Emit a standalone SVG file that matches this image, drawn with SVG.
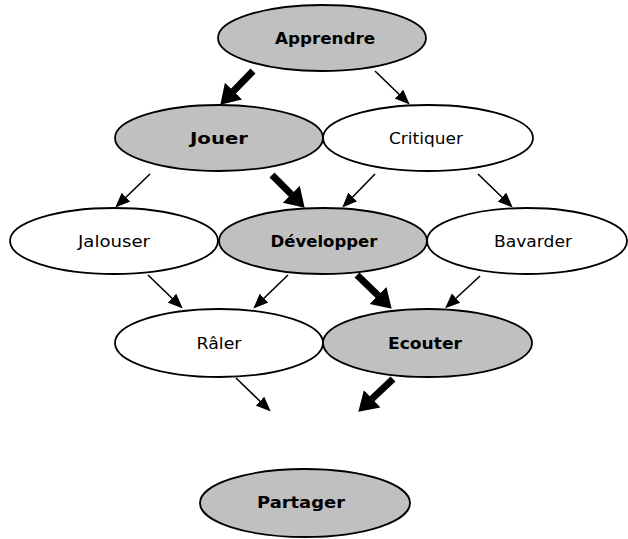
<svg xmlns="http://www.w3.org/2000/svg" width="628" height="539" viewBox="0 0 628 539">
<style>
.n ellipse{stroke:#000;stroke-width:1.8;}
.g ellipse{fill:#c0c0c0;}
.w ellipse{fill:#fff;}
text{font-family:"DejaVu Sans","Liberation Sans",sans-serif;text-anchor:middle;fill:#000;}
.g text{font-weight:bold;font-size:15.5px;}
.w text{font-size:15px;}
.thin{stroke:#000;stroke-width:1.6;fill:none;marker-end:url(#hs);}
.thick{stroke:#000;stroke-width:7;fill:none;marker-end:url(#hb);}
</style>
<defs>
<marker id="hs" markerUnits="userSpaceOnUse" markerWidth="17" markerHeight="14" refX="0.5" refY="7" orient="auto"><path d="M0,0.8 L15,7 L0,13.2 z" fill="#000"/></marker>
<marker id="hb" markerUnits="userSpaceOnUse" markerWidth="21" markerHeight="26" refX="0.5" refY="13" orient="auto"><path d="M0,1 L19,13 L0,25 z" fill="#000"/></marker>
</defs>
<rect width="628" height="539" fill="#fff"/>
<g id="connectors">
<line class="thick" x1="253" y1="71" x2="233.2" y2="91.4"/>
<line class="thin" x1="375" y1="71" x2="399.3" y2="94.5"/>
<line class="thin" x1="150" y1="174" x2="125.7" y2="197.5"/>
<line class="thick" x1="272" y1="175" x2="291.6" y2="194.6"/>
<line class="thin" x1="375" y1="174" x2="352.4" y2="197.2"/>
<line class="thin" x1="478" y1="174" x2="502.3" y2="197.5"/>
<line class="thin" x1="148" y1="275" x2="172.3" y2="298.5"/>
<line class="thin" x1="288" y1="275" x2="263.7" y2="298.5"/>
<line class="thick" x1="357" y1="275" x2="378.4" y2="295.8"/>
<line class="thin" x1="480" y1="276" x2="455.7" y2="298.5"/>
<line class="thin" x1="236" y1="378" x2="260.3" y2="401.5"/>
<line class="thick" x1="393" y1="379" x2="371.8" y2="399"/>
</g>
<g id="apprendre" class="n g"><ellipse cx="322" cy="38" rx="104" ry="33"/><text x="325" y="44" textLength="100" lengthAdjust="spacingAndGlyphs">Apprendre</text></g>
<g id="jouer" class="n g"><ellipse cx="219" cy="138" rx="104" ry="33"/><text x="219" y="144" textLength="58" lengthAdjust="spacingAndGlyphs">Jouer</text></g>
<g id="critiquer" class="n w"><ellipse cx="428" cy="138" rx="105" ry="33"/><text x="426" y="144" textLength="74" lengthAdjust="spacingAndGlyphs">Critiquer</text></g>
<g id="jalouser" class="n w"><ellipse cx="114" cy="241" rx="104" ry="33"/><text x="114" y="247" textLength="72" lengthAdjust="spacingAndGlyphs">Jalouser</text></g>
<g id="developper" class="n g"><ellipse cx="323" cy="241" rx="104" ry="33"/><text x="324" y="247" textLength="107" lengthAdjust="spacingAndGlyphs">Développer</text></g>
<g id="bavarder" class="n w"><ellipse cx="527" cy="241" rx="100" ry="33"/><text x="533" y="247" textLength="78" lengthAdjust="spacingAndGlyphs">Bavarder</text></g>
<g id="raler" class="n w"><ellipse cx="219" cy="343" rx="104" ry="34"/><text x="219" y="349" textLength="45" lengthAdjust="spacingAndGlyphs">Râler</text></g>
<g id="ecouter" class="n g"><ellipse cx="427.5" cy="343" rx="104.5" ry="34"/><text x="425" y="349" textLength="74" lengthAdjust="spacingAndGlyphs">Ecouter</text></g>
<g id="partager" class="n g"><ellipse cx="305" cy="503" rx="105" ry="34"/><text x="301" y="508" textLength="88" lengthAdjust="spacingAndGlyphs">Partager</text></g>
</svg>
